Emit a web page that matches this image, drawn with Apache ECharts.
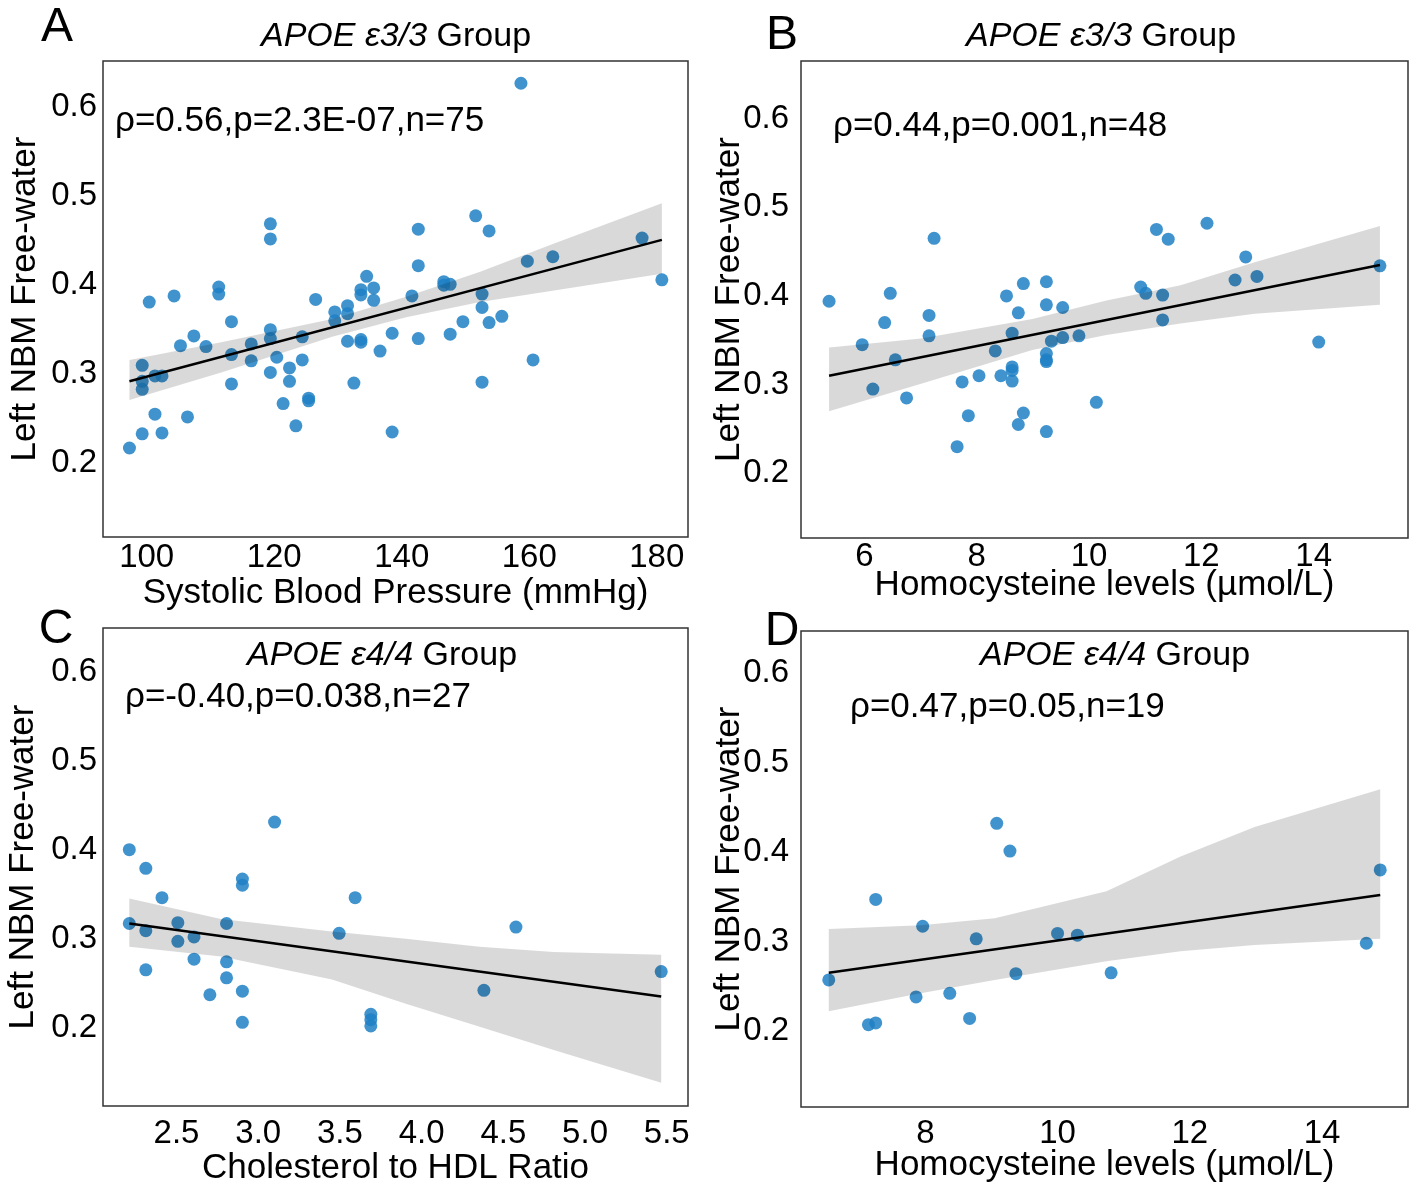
<!DOCTYPE html>
<html>
<head>
<meta charset="utf-8">
<script src="https://cdn.jsdelivr.net/npm/echarts@6/dist/echarts.min.js"></script>
<style>
html, body { margin: 0; padding: 0; background: #fff; }
#main { width: 1418px; height: 1194px; }
</style>
</head>
<body>
<div id="main"></div>
<script>
var FONT = 'Liberation Sans';

// ---- panel A: systolic BP, APOE e3/3 ----
var aX = [158.7,119.4,119.4,142.6,151.6,153.7,177.7,159.7,163.7,142.6,180.8,134.5,133.6,135.6,133.6,135.6,111.3,111.3,100.4,104.3,126.5,141.6,146.6,147.6,146.6,152.6,152.6,153.7,155.7,149.6,147.6,142.6,138.5,136.6,133.6,133.6,131.5,131.5,131.5,129.5,129.5,124.4,124.4,119.4,119.4,116.4,116.4,120.4,122.4,122.4,119.4,113.3,113.3,113.3,109.3,107.4,105.3,99.3,99.3,99.3,101.3,102.4,101.3,106.4,99.3,102.4,97.3,121.4,125.4,125.4,123.4,132.5,138.5,152.6,160.6];
var aY = [0.627,0.469,0.452,0.463,0.478,0.461,0.453,0.427,0.432,0.422,0.406,0.410,0.395,0.397,0.389,0.383,0.398,0.390,0.381,0.388,0.384,0.388,0.404,0.401,0.400,0.390,0.375,0.358,0.365,0.359,0.345,0.340,0.346,0.326,0.339,0.336,0.337,0.377,0.368,0.370,0.360,0.342,0.316,0.350,0.340,0.334,0.315,0.319,0.307,0.292,0.302,0.359,0.322,0.289,0.331,0.343,0.332,0.310,0.292,0.283,0.298,0.298,0.255,0.252,0.233,0.234,0.217,0.267,0.273,0.270,0.242,0.290,0.235,0.291,0.316];
var aLineX = [97.3, 180.8];
var aLineY = [0.292, 0.451];
var aBandX = [97.3, 111.7, 129.1, 140.7, 152.3, 163.9, 180.8];
var aBandUp = [0.316, 0.336, 0.362, 0.387, 0.415, 0.447, 0.492];
var aBandLo = [0.271, 0.302, 0.342, 0.364, 0.381, 0.394, 0.413];

// ---- panel B: homocysteine, APOE e3/3 ----
var bX = [5.37,5.96,6.15,6.36,6.46,6.55,6.75,7.15,7.15,7.24,7.65,7.74,7.85,8.04,8.33,8.43,8.53,8.63,8.63,8.63,8.63,8.74,8.74,8.83,8.83,9.24,9.24,9.24,9.24,9.24,9.24,9.33,9.53,9.53,9.82,10.13,10.92,11.01,11.20,11.31,11.31,11.41,12.10,12.60,12.79,12.99,14.09,15.18];
var bY = [0.394,0.345,0.295,0.370,0.403,0.328,0.285,0.378,0.355,0.465,0.230,0.303,0.265,0.310,0.338,0.310,0.400,0.358,0.320,0.316,0.304,0.381,0.255,0.414,0.268,0.416,0.390,0.335,0.328,0.326,0.247,0.349,0.387,0.353,0.355,0.280,0.410,0.403,0.475,0.401,0.373,0.464,0.482,0.418,0.444,0.422,0.348,0.434];
var bLineX = [5.37, 15.18];
var bLineY = [0.310, 0.435];
var bBandX = [5.37, 7.01, 8.99, 10.31, 11.63, 12.95, 15.18];
var bBandUp = [0.342, 0.352, 0.374, 0.395, 0.412, 0.438, 0.479];
var bBandLo = [0.270, 0.301, 0.339, 0.356, 0.369, 0.380, 0.390];

// ---- panel C: cholesterol/HDL, APOE e4/4 ----
var cX = [2.211,2.312,2.411,3.100,2.903,2.903,3.593,2.211,2.312,2.508,2.508,2.607,2.607,2.806,2.806,2.806,2.312,2.704,2.903,2.903,3.495,3.689,3.689,3.689,4.577,4.381,5.466];
var cY = [0.400,0.379,0.346,0.431,0.367,0.360,0.346,0.317,0.309,0.318,0.297,0.302,0.277,0.317,0.274,0.256,0.265,0.237,0.241,0.206,0.306,0.215,0.209,0.202,0.313,0.242,0.263];
var cLineX = [2.211, 5.466];
var cLineY = [0.317, 0.235];
var cBandX = [2.211, 2.772, 3.451, 3.903, 4.355, 4.808, 5.466];
var cBandUp = [0.345, 0.322, 0.308, 0.300, 0.291, 0.285, 0.282];
var cBandLo = [0.291, 0.280, 0.254, 0.227, 0.201, 0.175, 0.138];

// ---- panel D: homocysteine, APOE e4/4 ----
var dX = [6.54,7.14,7.25,7.25,7.86,7.96,8.37,8.67,8.77,9.08,9.28,9.37,10.00,10.30,10.81,14.67,14.88];
var dY = [0.257,0.207,0.209,0.347,0.238,0.317,0.242,0.214,0.303,0.432,0.401,0.264,0.309,0.307,0.265,0.298,0.380];
var dLineX = [6.54, 14.88];
var dLineY = [0.265, 0.352];
var dBandX = [6.54, 7.93, 9.05, 10.74, 11.86, 12.98, 14.88];
var dBandUp = [0.314, 0.318, 0.326, 0.356, 0.395, 0.428, 0.470];
var dBandLo = [0.222, 0.242, 0.257, 0.278, 0.289, 0.296, 0.303];

var panels = [
    {x: aX, y: aY, lx: aLineX, ly: aLineY, bx: aBandX, bu: aBandUp, bl: aBandLo,
     grid: {left: 103, top: 61, width: 585, height: 476},
     xMin: 93.15, xMax: 184.9, yMin: 0.117, yMax: 0.652, xStep: 20, xDig: 0, xSplit: 5,
     xName: 'Systolic Blood Pressure (mmHg)', xMargin: 4, xGap: 39, yMargin: 6, yGap: 60},
    {x: bX, y: bY, lx: bLineX, ly: bLineY, bx: bBandX, bu: bBandUp, bl: bBandLo,
     grid: {left: 801, top: 61, width: 607, height: 477},
     xMin: 4.87, xMax: 15.68, yMin: 0.127, yMax: 0.665, xStep: 2, xDig: 0, xSplit: 5,
     xName: 'Homocysteine levels (µmol/L)', xMargin: 2, xGap: 30, yMargin: 12, yGap: 54},
    {x: cX, y: cY, lx: cLineX, ly: cLineY, bx: cBandX, bu: cBandUp, bl: cBandLo,
     grid: {left: 103, top: 628, width: 585, height: 478},
     xMin: 2.05, xMax: 5.63, yMin: 0.112, yMax: 0.649, xStep: 0.5, xDig: 1, xSplit: 7,
     xName: 'Cholesterol to HDL Ratio', xMargin: 11, xGap: 45, yMargin: 6, yGap: 62},
    {x: dX, y: dY, lx: dLineX, ly: dLineY, bx: dBandX, bu: dBandUp, bl: dBandLo,
     grid: {left: 801, top: 631, width: 607, height: 476},
     xMin: 6.12, xMax: 15.30, yMin: 0.115, yMax: 0.647, xStep: 2, xDig: 0, xSplit: 5,
     xName: 'Homocysteine levels (µmol/L)', xMargin: 10, xGap: 41, yMargin: 12, yGap: 54}
];

function stepFormatter(step, digits) {
    return function (v) {
        var r = v / step;
        if (Math.abs(r - Math.round(r)) > 1e-6) return '';
        return v.toFixed(digits);
    };
}

function bandRenderer(bx, bu, bl) {
    return function (params, api) {
        var pts = [];
        for (var k = 0; k < bx.length; k++) pts.push(api.coord([bx[k], bu[k]]));
        for (var k = bx.length - 1; k >= 0; k--) pts.push(api.coord([bx[k], bl[k]]));
        return {
            type: 'polygon',
            shape: {points: pts},
            style: {fill: 'rgba(0,0,0,0.15)'}
        };
    };
}

var grids = [], xAxes = [], yAxes = [], series = [];
panels.forEach(function (p, i) {
    grids.push(Object.assign({show: true, borderColor: '#333', borderWidth: 1.5,
                              backgroundColor: 'transparent'}, p.grid));
    xAxes.push({
        type: 'value', gridIndex: i, min: p.xMin, max: p.xMax, splitNumber: p.xSplit,
        axisLine: {show: false}, axisTick: {show: false}, splitLine: {show: false},
        axisLabel: {color: '#000', fontFamily: FONT, fontSize: 33, margin: p.xMargin,
                    formatter: stepFormatter(p.xStep, p.xDig)},
        name: p.xName, nameLocation: 'middle', nameGap: p.xGap, nameMoveOverlap: false,
        nameTextStyle: {color: '#000', fontFamily: FONT, fontSize: 35}
    });
    yAxes.push({
        type: 'value', gridIndex: i, min: p.yMin, max: p.yMax, splitNumber: 5,
        axisLine: {show: false}, axisTick: {show: false}, splitLine: {show: false},
        axisLabel: {color: '#000', fontFamily: FONT, fontSize: 33, margin: p.yMargin,
                    formatter: stepFormatter(0.1, 1)},
        name: 'Left NBM Free-water', nameLocation: 'middle', nameGap: p.yGap, nameRotate: 90,
        nameMoveOverlap: false,
        nameTextStyle: {color: '#000', fontFamily: FONT, fontSize: 35}
    });
    series.push({
        type: 'scatter', xAxisIndex: i, yAxisIndex: i, symbolSize: 13, z: 2,
        itemStyle: {color: '#1f80c4', opacity: 0.85},
        data: p.x.map(function (v, k) { return [v, p.y[k]]; })
    });
    series.push({
        type: 'custom', xAxisIndex: i, yAxisIndex: i, z: 3, silent: true,
        renderItem: bandRenderer(p.bx, p.bu, p.bl),
        data: [[p.bx[0], p.bl[0]]]
    });
    series.push({
        type: 'line', xAxisIndex: i, yAxisIndex: i, z: 4, showSymbol: false,
        lineStyle: {color: '#000', width: 2.5},
        data: p.lx.map(function (v, k) { return [v, p.ly[k]]; })
    });
});

function label(text, x, y, size, align) {
    return {type: 'text', x: x, y: y, z: 10,
            style: {text: text, fill: '#000', fontFamily: FONT, fontSize: size,
                    align: align || 'center', verticalAlign: 'middle'}};
}
function groupTitle(geno, x, y) {
    return {type: 'text', x: x, y: y, z: 10,
            style: {text: '{i|APOE ' + geno + '} {n|Group}', fill: '#000',
                    align: 'center', verticalAlign: 'middle',
                    fontFamily: FONT, fontSize: 34,
                    rich: {i: {fontFamily: FONT, fontSize: 34, fontStyle: 'italic', fill: '#000'},
                           n: {fontFamily: FONT, fontSize: 34, fill: '#000'}}}};
}

var option = {
    animation: false,
    backgroundColor: '#fff',
    grid: grids,
    xAxis: xAxes,
    yAxis: yAxes,
    series: series,
    graphic: [
        label('A', 57, 28, 48), label('B', 782, 36, 48),
        label('C', 56, 630, 48), label('D', 782, 632, 48),
        groupTitle('ε3/3', 396, 37), groupTitle('ε3/3', 1101, 37),
        groupTitle('ε4/4', 382, 656), groupTitle('ε4/4', 1115, 656),
        label('ρ=0.56,p=2.3E-07,n=75', 115, 121, 35, 'left'),
        label('ρ=0.44,p=0.001,n=48', 833, 126, 35, 'left'),
        label('ρ=-0.40,p=0.038,n=27', 125, 697, 35, 'left'),
        label('ρ=0.47,p=0.05,n=19', 850, 707, 35, 'left')
    ]
};

var myChart = echarts.init(document.getElementById('main'));
myChart.setOption(option);
</script>
</body>
</html>
